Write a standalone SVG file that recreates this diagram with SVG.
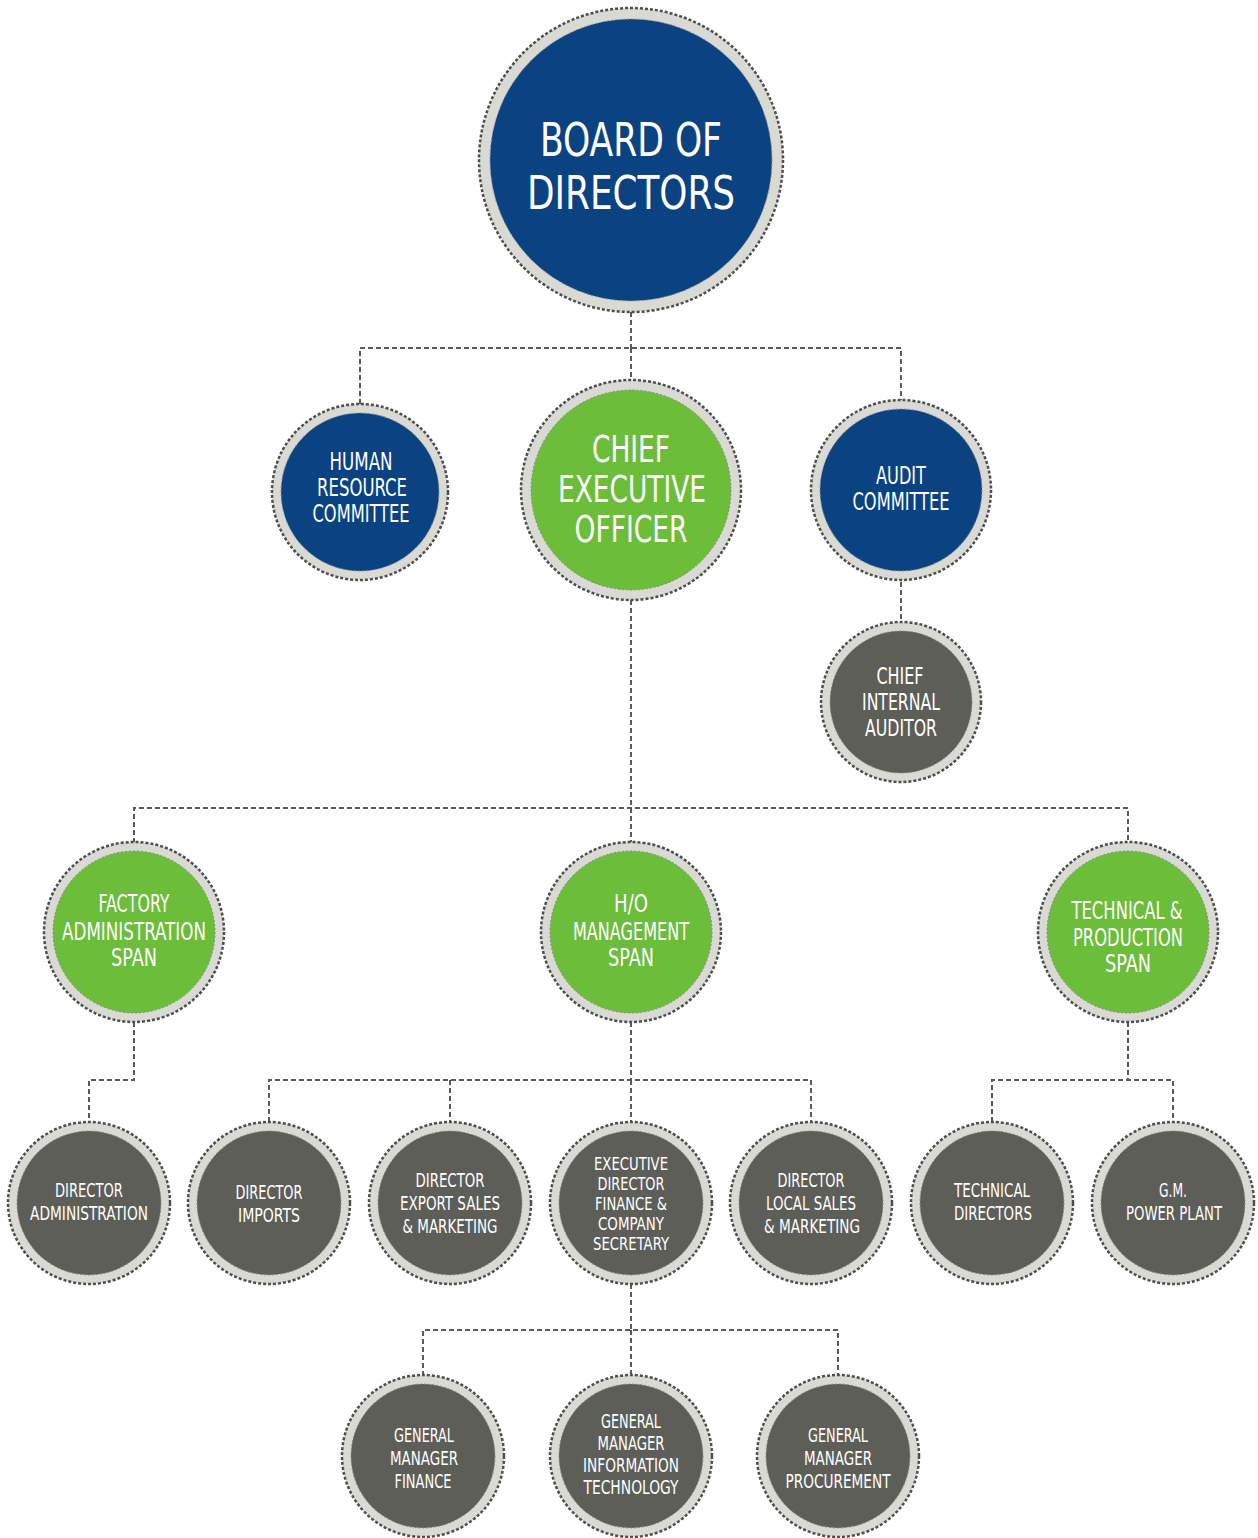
<svg xmlns="http://www.w3.org/2000/svg" width="1258" height="1538" viewBox="0 0 1258 1538">
  <style>
    .link { fill: none; stroke: #5a5a5a; stroke-width: 2; stroke-dasharray: 5 3; }
    .ring { fill: #dadad4; stroke: #4e4e4e; stroke-width: 2.5; stroke-dasharray: 3 2; }
    .inner { stroke: #8a8a86; stroke-width: 1; stroke-dasharray: 2 2; }
    .navy { fill: #0b4382; }
    .green { fill: #6bbd3a; }
    .grey { fill: #5d5e58; }
    text { fill: #ffffff; font-family: "Liberation Sans Narrow", "DejaVu Sans Condensed", "Liberation Sans", sans-serif; text-anchor: middle; }
    .t56 { font-size: 47px; }
    .t42 { font-size: 38px; }
    .t26 { font-size: 24px; }
    .t24 { font-size: 23px; }
    .t20 { font-size: 19px; }
    .t18 { font-size: 17px; }
  </style>

  <!-- dashed reporting lines -->
  <g id="connectors">
    <path class="link" d="M631 312 V348 M360 404 V348 H901 V400 M631 348 V380"/>
    <path class="link" d="M901 582 V622"/>
    <path class="link" d="M631 600 V808 M134 843 V808 H1128 V843 M631 808 V843"/>
    <path class="link" d="M134 1022 V1080 H89 V1122"/>
    <path class="link" d="M631 1022 V1080 M269 1122 V1080 H811 V1122 M450 1080 V1122 M631 1080 V1122"/>
    <path class="link" d="M1128 1022 V1080 M992 1122 V1080 H1173 V1122"/>
    <path class="link" d="M631 1284 V1330 M423 1376 V1330 H838 V1376 M631 1330 V1376"/>
  </g>

  <g id="board">
    <circle class="ring" cx="631" cy="160" r="152"/>
    <circle class="navy inner" cx="631" cy="160" r="141"/>
    <text class="t56" x="631" y="156" textLength="182" lengthAdjust="spacingAndGlyphs">BOARD OF</text>
    <text class="t56" x="631" y="209" textLength="208" lengthAdjust="spacingAndGlyphs">DIRECTORS</text>
  </g>

  <g id="hr-committee">
    <circle class="ring" cx="360" cy="492" r="88"/>
    <circle class="navy inner" cx="360" cy="492" r="79"/>
    <text class="t26" x="361" y="470" textLength="63" lengthAdjust="spacingAndGlyphs">HUMAN</text>
    <text class="t26" x="362" y="496" textLength="90" lengthAdjust="spacingAndGlyphs">RESOURCE</text>
    <text class="t26" x="361" y="522" textLength="97" lengthAdjust="spacingAndGlyphs">COMMITTEE</text>
  </g>

  <g id="ceo">
    <circle class="ring" cx="631" cy="490" r="110"/>
    <circle class="green inner" cx="631" cy="490" r="100"/>
    <text class="t42" x="631" y="462" textLength="78" lengthAdjust="spacingAndGlyphs">CHIEF</text>
    <text class="t42" x="632" y="502" textLength="148" lengthAdjust="spacingAndGlyphs">EXECUTIVE</text>
    <text class="t42" x="631" y="542" textLength="113" lengthAdjust="spacingAndGlyphs">OFFICER</text>
  </g>

  <g id="audit-committee">
    <circle class="ring" cx="901" cy="490" r="90"/>
    <circle class="navy inner" cx="901" cy="490" r="81"/>
    <text class="t26" x="901" y="484" textLength="50" lengthAdjust="spacingAndGlyphs">AUDIT</text>
    <text class="t26" x="901" y="510" textLength="97" lengthAdjust="spacingAndGlyphs">COMMITTEE</text>
  </g>

  <g id="chief-internal-auditor">
    <circle class="ring" cx="901" cy="702" r="80"/>
    <circle class="grey inner" cx="901" cy="702" r="71"/>
    <text class="t24" x="900" y="684" textLength="47" lengthAdjust="spacingAndGlyphs">CHIEF</text>
    <text class="t24" x="901" y="710" textLength="78" lengthAdjust="spacingAndGlyphs">INTERNAL</text>
    <text class="t24" x="901" y="736" textLength="72" lengthAdjust="spacingAndGlyphs">AUDITOR</text>
  </g>

  <g id="factory-admin-span">
    <circle class="ring" cx="134" cy="932" r="90"/>
    <circle class="green inner" cx="134" cy="932" r="81"/>
    <text class="t26" x="134" y="912" textLength="71" lengthAdjust="spacingAndGlyphs">FACTORY</text>
    <text class="t26" x="134" y="940" textLength="144" lengthAdjust="spacingAndGlyphs">ADMINISTRATION</text>
    <text class="t26" x="134" y="966" textLength="46" lengthAdjust="spacingAndGlyphs">SPAN</text>
  </g>

  <g id="ho-management-span">
    <circle class="ring" cx="631" cy="932" r="90"/>
    <circle class="green inner" cx="631" cy="932" r="81"/>
    <text class="t26" x="631" y="912" textLength="34" lengthAdjust="spacingAndGlyphs">H/O</text>
    <text class="t26" x="631" y="940" textLength="116" lengthAdjust="spacingAndGlyphs">MANAGEMENT</text>
    <text class="t26" x="631" y="966" textLength="46" lengthAdjust="spacingAndGlyphs">SPAN</text>
  </g>

  <g id="technical-production-span">
    <circle class="ring" cx="1128" cy="932" r="90"/>
    <circle class="green inner" cx="1128" cy="932" r="81"/>
    <text class="t26" x="1127" y="919" textLength="111" lengthAdjust="spacingAndGlyphs">TECHNICAL &amp;</text>
    <text class="t26" x="1128" y="946" textLength="110" lengthAdjust="spacingAndGlyphs">PRODUCTION</text>
    <text class="t26" x="1128" y="972" textLength="46" lengthAdjust="spacingAndGlyphs">SPAN</text>
  </g>

  <g id="director-administration">
    <circle class="ring" cx="89" cy="1203" r="81"/>
    <circle class="grey inner" cx="89" cy="1203" r="72"/>
    <text class="t20" x="89" y="1197" textLength="68" lengthAdjust="spacingAndGlyphs">DIRECTOR</text>
    <text class="t20" x="89" y="1220" textLength="118" lengthAdjust="spacingAndGlyphs">ADMINISTRATION</text>
  </g>

  <g id="director-imports">
    <circle class="ring" cx="269" cy="1203" r="81"/>
    <circle class="grey inner" cx="269" cy="1203" r="72"/>
    <text class="t20" x="269" y="1199" textLength="67" lengthAdjust="spacingAndGlyphs">DIRECTOR</text>
    <text class="t20" x="269" y="1222" textLength="62" lengthAdjust="spacingAndGlyphs">IMPORTS</text>
  </g>

  <g id="director-export">
    <circle class="ring" cx="450" cy="1203" r="81"/>
    <circle class="grey inner" cx="450" cy="1203" r="72"/>
    <text class="t20" x="450" y="1187" textLength="69" lengthAdjust="spacingAndGlyphs">DIRECTOR</text>
    <text class="t20" x="450" y="1210" textLength="100" lengthAdjust="spacingAndGlyphs">EXPORT SALES</text>
    <text class="t20" x="450" y="1233" textLength="95" lengthAdjust="spacingAndGlyphs">&amp; MARKETING</text>
  </g>

  <g id="executive-director-finance">
    <circle class="ring" cx="631" cy="1203" r="81"/>
    <circle class="grey inner" cx="631" cy="1203" r="72"/>
    <text class="t18" x="631" y="1170" textLength="74" lengthAdjust="spacingAndGlyphs">EXECUTIVE</text>
    <text class="t18" x="631" y="1190" textLength="67" lengthAdjust="spacingAndGlyphs">DIRECTOR</text>
    <text class="t18" x="631" y="1210" textLength="72" lengthAdjust="spacingAndGlyphs">FINANCE &amp;</text>
    <text class="t18" x="631" y="1230" textLength="66" lengthAdjust="spacingAndGlyphs">COMPANY</text>
    <text class="t18" x="631" y="1250" textLength="76" lengthAdjust="spacingAndGlyphs">SECRETARY</text>
  </g>

  <g id="director-local">
    <circle class="ring" cx="811" cy="1203" r="81"/>
    <circle class="grey inner" cx="811" cy="1203" r="72"/>
    <text class="t20" x="811" y="1187" textLength="67" lengthAdjust="spacingAndGlyphs">DIRECTOR</text>
    <text class="t20" x="811" y="1210" textLength="90" lengthAdjust="spacingAndGlyphs">LOCAL SALES</text>
    <text class="t20" x="812" y="1233" textLength="96" lengthAdjust="spacingAndGlyphs">&amp; MARKETING</text>
  </g>

  <g id="technical-directors">
    <circle class="ring" cx="992" cy="1203" r="81"/>
    <circle class="grey inner" cx="992" cy="1203" r="72"/>
    <text class="t20" x="992" y="1197" textLength="76" lengthAdjust="spacingAndGlyphs">TECHNICAL</text>
    <text class="t20" x="993" y="1220" textLength="78" lengthAdjust="spacingAndGlyphs">DIRECTORS</text>
  </g>

  <g id="gm-power-plant">
    <circle class="ring" cx="1173" cy="1203" r="81"/>
    <circle class="grey inner" cx="1173" cy="1203" r="72"/>
    <text class="t20" x="1173" y="1197" textLength="28" lengthAdjust="spacingAndGlyphs">G.M.</text>
    <text class="t20" x="1174" y="1220" textLength="96" lengthAdjust="spacingAndGlyphs">POWER PLANT</text>
  </g>

  <g id="gm-finance">
    <circle class="ring" cx="423" cy="1456" r="81"/>
    <circle class="grey inner" cx="423" cy="1456" r="72"/>
    <text class="t20" x="424" y="1442" textLength="60" lengthAdjust="spacingAndGlyphs">GENERAL</text>
    <text class="t20" x="424" y="1465" textLength="68" lengthAdjust="spacingAndGlyphs">MANAGER</text>
    <text class="t20" x="423" y="1488" textLength="57" lengthAdjust="spacingAndGlyphs">FINANCE</text>
  </g>

  <g id="gm-information-technology">
    <circle class="ring" cx="631" cy="1456" r="81"/>
    <circle class="grey inner" cx="631" cy="1456" r="72"/>
    <text class="t20" x="631" y="1428" textLength="60" lengthAdjust="spacingAndGlyphs">GENERAL</text>
    <text class="t20" x="631" y="1450" textLength="67" lengthAdjust="spacingAndGlyphs">MANAGER</text>
    <text class="t20" x="631" y="1472" textLength="96" lengthAdjust="spacingAndGlyphs">INFORMATION</text>
    <text class="t20" x="631" y="1494" textLength="95" lengthAdjust="spacingAndGlyphs">TECHNOLOGY</text>
  </g>

  <g id="gm-procurement">
    <circle class="ring" cx="838" cy="1456" r="81"/>
    <circle class="grey inner" cx="838" cy="1456" r="72"/>
    <text class="t20" x="838" y="1442" textLength="60" lengthAdjust="spacingAndGlyphs">GENERAL</text>
    <text class="t20" x="838" y="1465" textLength="68" lengthAdjust="spacingAndGlyphs">MANAGER</text>
    <text class="t20" x="838" y="1488" textLength="105" lengthAdjust="spacingAndGlyphs">PROCUREMENT</text>
  </g>
</svg>
